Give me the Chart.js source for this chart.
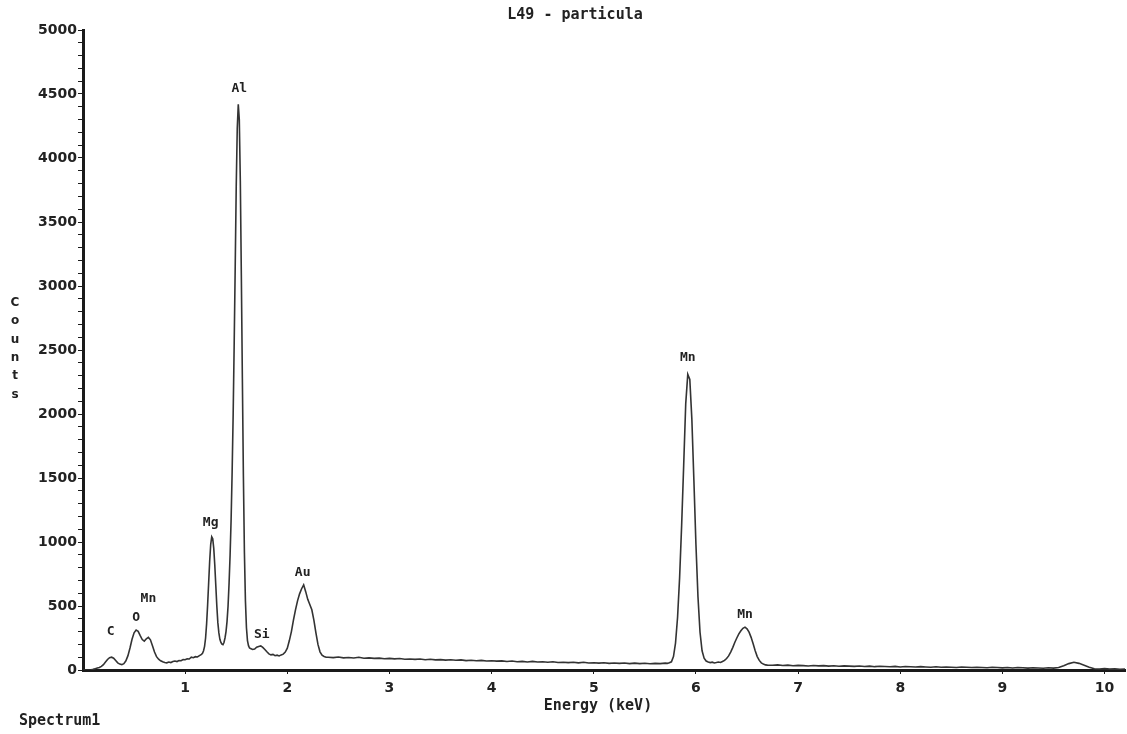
<!DOCTYPE html>
<html>
<head>
<meta charset="utf-8">
<title>L49 - particula</title>
<script src="https://cdn.jsdelivr.net/npm/chart.js"></script>
<style>
  html, body { margin: 0; padding: 0; background: #fff; }
  #wrap { width: 1127px; height: 734px; position: relative; }
</style>
</head>
<body>
<div id="wrap"><canvas id="spectrum"></canvas></div>
<script>
'use strict'

// spectrum, in segments (start keV, channel step, counts)
const lowStart = 0.00, lowStep = 0.02
const lowCounts = [
  0, 0, 0, 0, 2, 5, 10, 15, 20, 28,            // 0.00
  42, 62, 82, 96, 100, 92, 74, 56, 46, 42,     // 0.20  C
  50, 72, 112, 172, 240, 290, 312, 302, 268, 238, // 0.40  O
  226, 244, 256, 236, 190, 140, 104, 84, 72, 64,  // 0.60  Mn L
  58, 56, 62, 58, 66, 70, 66, 74, 72, 82,      // 0.80
  80, 88, 86, 100, 96, 104, 102, 112, 122      // 1.00
]

const mgAlStart = 1.17, mgAlStep = 0.01
const mgAlCounts = [
  130, 150, 185, 250, 360, 510, 680, 850, 980, 1040,       // 1.17  Mg
  1025, 950, 820, 660, 500, 370, 290, 240, 215, 202,       // 1.27
  198, 215, 250, 300, 380, 500, 680, 900, 1180, 1550,      // 1.37
  2000, 2550, 3150, 3780, 4230, 4420, 4300, 3820, 3080, 2280, // 1.47  Al
  1520, 920, 540, 330, 230, 190, 172                       // 1.57
]

const siAuStart = 1.64, siAuStep = 0.02
const siAuCounts = [
  168, 160, 164, 178, 184, 188, 176, 160, 142, 126,  // 1.64  Si
  118, 122, 112, 116, 110, 118, 124, 140, 170, 230,  // 1.84
  300, 390, 470, 540, 595, 635, 665, 612, 552, 512,  // 2.04  Au
  470, 390, 290, 200, 142, 116, 106, 100             // 2.24
]

const midStart = 2.40, midStep = 0.05
const midCounts = [
  100, 97, 101, 95, 98, 94, 99, 92, 95, 91,   // 2.40
  93, 88, 91, 87, 90, 84, 86, 83, 86, 80,     // 2.90
  84, 79, 81, 77, 80, 76, 79, 73, 76, 72,     // 3.40
  75, 70, 72, 69, 71, 66, 70, 65, 67, 63,     // 3.90
  67, 62, 64, 61, 64, 59, 61, 58, 61, 56,     // 4.40
  60, 55, 57, 54, 57, 52, 55, 52, 55, 50,     // 4.90
  54, 50, 53, 49, 52, 50, 54                  // 5.40
]

const mnStart = 5.72, mnStep = 0.02
const mnCounts = [
  52, 56, 64, 105, 210, 410, 720, 1130, 1600, 2080,  // 5.72  Mn Ka
  2310, 2270, 1960, 1480, 980, 570, 295, 150, 92, 70, // 5.92
  62, 58, 61, 55, 58, 62, 59, 67, 75, 90,            // 6.12
  110, 140, 175, 215, 250, 282, 306, 326, 335, 322,  // 6.32  Mn Kb
  296, 255, 205, 150, 105, 75, 56, 46, 40, 38        // 6.52
]

const highStart = 6.75, highStep = 0.05
const highCounts = [
  37, 40, 35, 38, 33, 36, 34, 31, 35, 32,   // 6.75
  34, 30, 33, 29, 32, 30, 28, 31, 27, 30,   // 7.25
  26, 29, 27, 25, 28, 24, 27, 25, 23, 26,   // 7.75
  24, 22, 25, 21, 24, 22, 20, 23, 21, 19,   // 8.25
  22, 20, 18, 21, 19, 17, 20, 16, 19, 17,   // 8.75
  15, 18, 16, 14, 17, 15, 20, 34, 50, 60,   // 9.25
  52, 38, 22, 10, 8, 11, 7, 9, 6, 8         // 9.75
]

// peak labels
const peakNames = ['C', 'O', 'Mn', 'Mg', 'Al', 'Si', 'Au', 'Mn', 'Mn']
const peakKeV = [0.27, 0.52, 0.64, 1.25, 1.53, 1.75, 2.15, 5.92, 6.48]
const peakLabelCounts = [300, 410, 560, 1150, 4540, 275, 760, 2440, 430]

const xTickValues = [1, 2, 3, 4, 5, 6, 7, 8, 9, 10]

function toPoints(start, step, counts) {
  return counts.map((c, i) => ({ x: Math.round((start + i * step) * 100) / 100, y: c }))
}

const spectrum = [].concat(
  toPoints(lowStart, lowStep, lowCounts),
  toPoints(mgAlStart, mgAlStep, mgAlCounts),
  toPoints(siAuStart, siAuStep, siAuCounts),
  toPoints(midStart, midStep, midCounts),
  toPoints(mnStart, mnStep, mnCounts),
  toPoints(highStart, highStep, highCounts)
)

const ink = '#222'

// texts around the plot + peak names
const sheetText = {
  id: 'sheetText',
  afterDraw(chart) {
    const ctx = chart.ctx
    const xs = chart.scales.x
    const ys = chart.scales.y
    ctx.save()
    ctx.fillStyle = ink
    ctx.textAlign = 'center'
    ctx.textBaseline = 'middle'
    ctx.font = 'bold 13px "DejaVu Sans Mono"'
    peakNames.forEach((name, i) => {
      ctx.fillText(name, xs.getPixelForValue(peakKeV[i]), ys.getPixelForValue(peakLabelCounts[i]))
    })

    ctx.textBaseline = 'alphabetic'
    ctx.font = 'bold 15px "DejaVu Sans Mono"'
    ctx.fillText('L49 - particula', 575, 19)
    ctx.fillText('Energy (keV)', 598, 710)
    ctx.textAlign = 'left'
    ctx.fillText('Spectrum1', 19, 725)

    ctx.textAlign = 'center'
    ctx.textBaseline = 'middle'
    ctx.font = 'bold 12px "DejaVu Sans"'
    'Counts'.split('').forEach((ch, i) => {
      ctx.fillText(ch, 15, 303 + i * 18.3)
    })
    ctx.restore()
  }
}

const ctx = document.getElementById('spectrum')

const spectrumChart = new Chart(ctx, {
  type: 'line',
  data: {
    datasets: [{
      data: spectrum,
      borderColor: '#333',
      borderWidth: 1.6,
      pointRadius: 0,
      tension: 0,
      fill: false
    }]
  },
  options: {
    responsive: true,
    maintainAspectRatio: false,
    devicePixelRatio: 1,
    animation: false,
    layout: { padding: { top: 30, right: 2, left: 0, bottom: 0 } },
    plugins: {
      legend: { display: false },
      tooltip: { enabled: false },
      title: { display: false }
    },
    scales: {
      x: {
        type: 'linear',
        min: 0,
        max: 10.2,
        afterBuildTicks: (scale) => {
          scale.ticks = xTickValues.map(v => ({ value: v }))
        },
        afterFit: (scale) => { scale.height = 64 },
        border: { display: true, color: '#1a1a1a', width: 3 },
        grid: { drawOnChartArea: false, drawTicks: true, tickLength: 4, color: '#1a1a1a' },
        ticks: {
          color: ink,
          padding: 6,
          maxRotation: 0,
          font: { family: 'DejaVu Sans', size: 14, weight: 'bold' }
        }
      },
      y: {
        min: 0,
        max: 5000,
        afterFit: (scale) => { scale.width = 83 },
        border: { display: true, color: '#1a1a1a', width: 3 },
        grid: { drawOnChartArea: false, drawTicks: true, tickLength: 5, color: '#1a1a1a' },
        ticks: {
          stepSize: 100,
          autoSkip: false,
          color: ink,
          padding: 1,
          font: { family: 'DejaVu Sans', size: 14, weight: 'bold' },
          callback: (v) => (v % 500 === 0 ? v : '')
        }
      }
    }
  },
  plugins: [sheetText]
})
</script>
</body>
</html>
